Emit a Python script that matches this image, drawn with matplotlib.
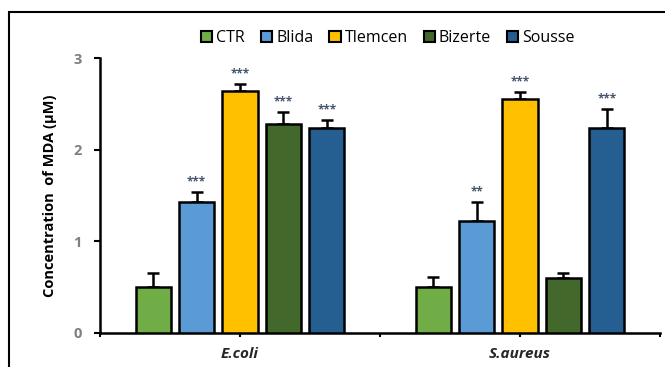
import matplotlib
matplotlib.use("Agg")
import matplotlib.pyplot as plt
from matplotlib.patches import Rectangle, Patch
import numpy as np

categories = ["E.coli", "S.aureus"]
groups = ["CTR", "Blida", "Tlemcen", "Bizerte", "Sousse"]
colors = ["#70AD47", "#5B9BD5", "#FFC000", "#43682B", "#255E91"]

means = {
    "CTR":     [0.50, 0.50],
    "Blida":   [1.43, 1.22],
    "Tlemcen": [2.64, 2.55],
    "Bizerte": [2.28, 0.60],
    "Sousse":  [2.24, 2.24],
}
errors = {
    "CTR":     [0.15, 0.11],
    "Blida":   [0.11, 0.21],
    "Tlemcen": [0.08, 0.08],
    "Bizerte": [0.13, 0.05],
    "Sousse":  [0.08, 0.20],
}
stars = {
    "CTR":     ["", ""],
    "Blida":   ["***", "**"],
    "Tlemcen": ["***", "***"],
    "Bizerte": ["***", ""],
    "Sousse":  ["***", "***"],
}
yticks = [0, 1, 2, 3]

plt.rcParams["font.family"] = ["Open Sans", "DejaVu Sans"]

fig = plt.figure(figsize=(6.65, 3.67), dpi=100)
ax = fig.add_axes([100 / 665, 34 / 367, 560 / 665, 275 / 367])

x = np.arange(len(categories))
step = 0.155
width = 0.126
for i, g in enumerate(groups):
    pos = x + (i - 2) * step
    ax.bar(pos, means[g], width=width, color=colors[i], edgecolor="black",
           linewidth=1.8, zorder=3)
    ax.errorbar(pos, means[g], yerr=[np.zeros(len(categories)), errors[g]],
                fmt="none", ecolor="black", elinewidth=1.8, capsize=4,
                capthick=1.8, zorder=2)
    for j in range(len(categories)):
        if stars[g][j]:
            ax.text(pos[j], means[g][j] + errors[g][j] + 0.04, stars[g][j],
                    ha="center", va="bottom", fontsize=8.5, color="#44546A",
                    fontweight="bold")

ax.set_xlim(-0.5, 1.5)
ax.set_ylim(0, 3)
ax.set_yticks(yticks)
ax.set_yticklabels([str(t) for t in yticks], color="#7F7F7F", fontsize=10.5,
                   fontweight="bold")
ax.set_xticks([-0.5, 0, 0.5, 1, 1.5])
ax.set_xticklabels([])
ax.tick_params(axis="y", direction="out", length=4, width=1.5, pad=9)
ax.tick_params(axis="x", direction="out", length=3, width=1.5)
for c, lab in zip(x, categories):
    ax.text(c, -0.15, lab, ha="center", va="top", fontsize=11,
            fontweight="bold", fontstyle="italic", color="#262626",
            transform=ax.transData)

for side in ["top", "right"]:
    ax.spines[side].set_visible(False)
for side in ["left", "bottom"]:
    ax.spines[side].set_linewidth(1.8)

ax.set_ylabel("Concentration  of MDA (µM)", fontsize=10.5, fontweight="bold",
              color="black", labelpad=12)

handles = [Patch(facecolor=c, edgecolor="black", linewidth=1.5, label=g)
           for c, g in zip(colors, groups)]
fig.legend(handles=handles, loc="center", bbox_to_anchor=(388 / 665, 329 / 367),
           ncol=5, frameon=False, fontsize=11.5, handlelength=0.7,
           handleheight=0.7, handletextpad=0.25, columnspacing=1.0)

fig.patches.append(Rectangle((9 / 665, -0.1), 1.2, 0.1 + 355 / 367,
                             transform=fig.transFigure, fill=False,
                             edgecolor="black", linewidth=1.5))

fig.savefig("out.png", dpi=100)
